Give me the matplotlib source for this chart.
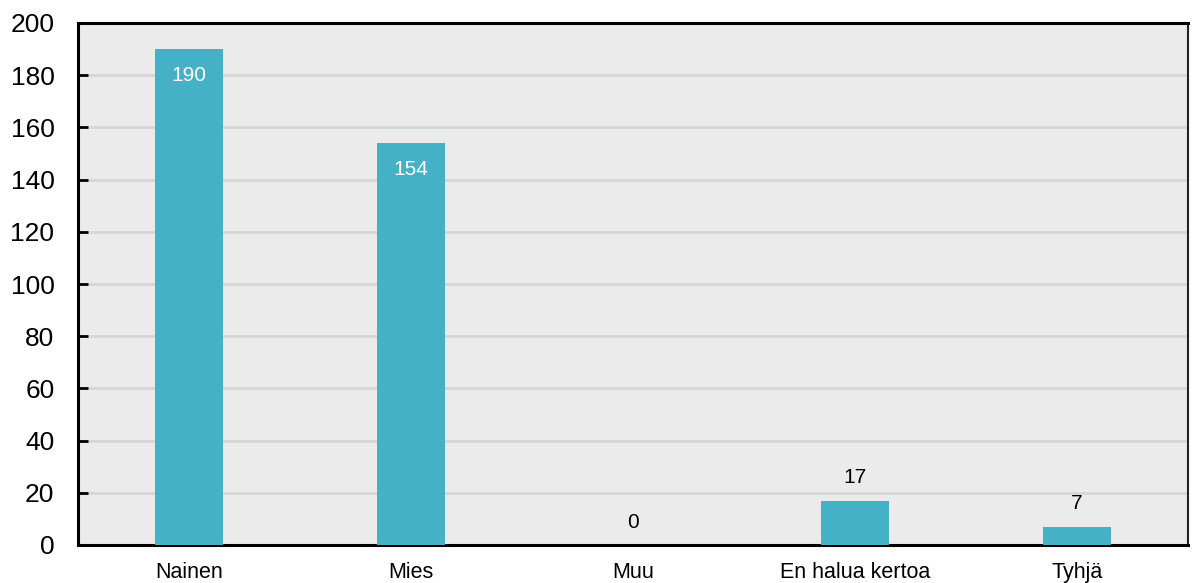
import matplotlib.pyplot as plt

categories = ['Nainen', 'Mies', 'Muu', 'En halua kertoa', 'Tyhjä']
counts = [190, 154, 0, 17, 7]
yticks = [0, 20, 40, 60, 80, 100, 120, 140, 160, 180, 200]

plt.rcParams['font.family'] = ['Liberation Sans', 'DejaVu Sans']

fig = plt.figure(figsize=(11.97, 5.83), dpi=100)
ax = fig.add_axes([78 / 1197, 1 - 545 / 583, 1110 / 1197, 522 / 583])
ax.set_facecolor('#EBEBEB')

x = range(len(categories))
bars = ax.bar(x, counts, width=0.31, color='#45B1C6', zorder=3)

ax.set_xlim(-0.5, len(categories) - 0.5)
ax.set_ylim(0, 200)
ax.set_yticks(yticks)
ax.set_xticks(list(x))
ax.set_xticklabels(categories, fontsize=15.5)
ax.tick_params(axis='y', labelsize=19, direction='in', length=7, width=2, pad=17)
ax.tick_params(axis='x', length=0, pad=12)
ax.grid(axis='y', color='#D6D6D6', linewidth=2, zorder=1)

for side in ['left', 'bottom', 'top']:
    ax.spines[side].set_linewidth(2.2)
    ax.spines[side].set_color('black')
ax.spines['right'].set_linewidth(1.5)
ax.spines['right'].set_color('#222222')

# tall bars get their value inside, short ones above
for b, v in zip(bars, counts):
    cx = b.get_x() + b.get_width() / 2
    if v > 50:
        ax.annotate(str(v), (cx, v), xytext=(0, -26), textcoords='offset pixels',
                    ha='center', va='center', color='white', fontsize=15, zorder=4)
    else:
        ax.annotate(str(v), (cx, v), xytext=(0, 23), textcoords='offset pixels',
                    ha='center', va='center', color='black', fontsize=15, zorder=4)

fig.savefig('out.png', dpi=100)
